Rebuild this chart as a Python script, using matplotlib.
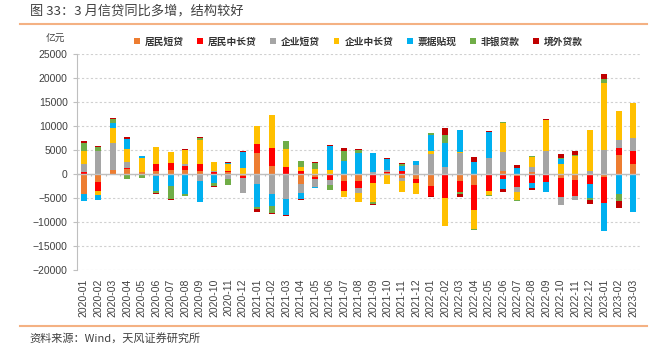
import numpy as np
import matplotlib
matplotlib.use("Agg")
import matplotlib.pyplot as plt
from matplotlib.patches import Patch

plt.rcParams['font.family'] = ['Noto Sans CJK SC', 'DejaVu Sans']

# 月份
months = ['%d-%02d' % (y, m) for y in (2020, 2021, 2022, 2023) for m in range(1, 13)][:39]

# 各分项同比多增（亿元）
jm_short = [-4000, -1500, 800, 1050, 400, 750, 800, 800, 600, 100, 400, -250,
            4400, 1750, 0, -2000, -500, 0, -1450, -1300, 0, 200, -800, -950,
            -2350, 0, -1400, -2150, 0, 750, -300, 400, 0, -850, -1100, 0,
            -600, 4100, 2150]
jm_long = [550, -1900, 200, 300, 100, 1400, 1600, 1000, 1450, 350, 350, -450,
           2000, 3800, 1600, 600, -400, -1250, -2100, -1450, -1800, 200, 750, -950,
           -2200, -4850, -2350, -5300, -3450, -1050, -2400, -1800, -1650, -3950, -3450, -1950,
           -5300, 1300, 2650]
qy_short = [1700, 4900, 5550, 1250, 0, -400, 0, 350, -1300, 200, -1000, -3100,
            -1950, -4000, -5050, -1950, -1750, -900, 0, -1100, 500, 500, -500, 1950,
            4300, 1500, 4450, 0, 3350, 3800, -1050, 1100, 4800, -1500, -700, 600,
            5000, 1650, 2700]
qy_long = [2700, -950, 3200, 2700, 2900, 3600, 2300, 3000, 5000, 2000, 1450, 1400,
           3750, 6750, 3600, 1000, 1200, 1000, -1100, -2000, -3900, -1950, -2400, -2100,
           600, -5850, 200, -3950, -900, 6050, -1500, 2100, 6550, 2200, 3900, 8700,
           13950, 6050, 7450]
piaoju = [-1600, -1050, 1000, 2000, 350, -3100, -2500, -4000, -4400, -1800, 200, 3200,
          -4900, -2500, -3400, -1250, -200, 5000, 2700, 4500, 4000, 2200, 900, 750,
          3200, 4950, 4500, 2550, 5550, -1950, 1400, -1050, -1950, 900, -150, -2900,
          -5850, -4000, -7900]
feiyin = [1650, 750, 700, -1000, -700, -400, -2550, -600, 500, -550, -1200, 0,
          -350, -1600, 1650, 1200, 1250, -1050, 2100, 650, -550, 0, 500, 0,
          500, 1650, -300, -300, -200, 300, -350, 300, -150, 300, 200, -550,
          850, -1600, 0]
jingwai = [300, 150, 200, 400, 150, -300, -200, 150, 200, -250, 150, 200,
           -550, -200, -200, -200, 200, 150, 750, 200, -200, 350, 150, -150,
           -100, 1450, -750, 1100, 200, -600, 500, -500, 200, 750, 850, -750,
           1050, -1400, 0]

names = ['居民短贷', '居民中长贷', '企业短贷', '企业中长贷', '票据贴现', '非银贷款', '境外贷款']
series = [jm_short, jm_long, qy_short, qy_long, piaoju, feiyin, jingwai]
colors = ['#ED7D31', '#FF0000', '#A5A5A5', '#FFC000', '#00B0F0', '#70AD47', '#C00000']

fig = plt.figure(figsize=(6.7, 3.46), dpi=100)
ax = fig.add_axes([76.7 / 670, 1 - 270.3 / 346, (640.3 - 76.7) / 670, (270.3 - 54.3) / 346])

x = np.arange(len(months))
pos = np.zeros(len(months))
neg = np.zeros(len(months))
for vals, c in zip(series, colors):
    v = np.array(vals, dtype=float)
    bottom = np.where(v >= 0, pos, neg)
    ax.bar(x, v, width=0.42, bottom=bottom, color=c, linewidth=0)
    pos += np.where(v >= 0, v, 0)
    neg += np.where(v < 0, v, 0)

ax.set_xlim(-0.5, len(months) - 0.5)
ax.set_ylim(-20000, 25000)
ax.set_yticks(np.arange(-20000, 25001, 5000))
ax.yaxis.grid(True, linestyle=(0, (2, 2)), color='#D0D0D0', linewidth=0.8)
ax.set_axisbelow(True)

# 零轴及分隔刻度
ax.axhline(0, color='#BFBFBF', linewidth=1, zorder=1)
ax.vlines(np.arange(len(months) + 1) - 0.5, -350, 0, color='#BFBFBF', linewidth=0.8, zorder=1)

for s in ['top', 'right', 'bottom']:
    ax.spines[s].set_visible(False)
ax.spines['left'].set_color('#BFBFBF')

ax.set_xticks(x)
ax.set_xticklabels(months, rotation=90, fontsize=7.5, family='Liberation Sans', color='#404040')
ax.tick_params(axis='x', length=0, pad=6)
ax.tick_params(axis='y', length=3, color='#BFBFBF', labelsize=7.5, labelcolor='#404040')
for t in ax.get_yticklabels():
    t.set_family('Liberation Sans')

fig.text(55.5 / 670, 1 - 39 / 346, '亿元', fontsize=7, color='#404040', ha='center', va='center')

handles = [Patch(facecolor=c, edgecolor='none') for c in colors]
fig.legend(handles, names, loc='center', bbox_to_anchor=(358.5 / 670, 1 - 41.7 / 346), ncol=7,
           frameon=False, handlelength=0.6, handleheight=0.6,
           handletextpad=0.5, columnspacing=1.4, labelcolor='#333333',
           prop={'size': 7, 'weight': 'bold'})

# 标题与来源
fig.text(30 / 670, 1 - 10.5 / 346, '图 33：3 月信贷同比多增，结构较好', fontsize=9.5,
         color='#404040', ha='left', va='center')
fig.add_artist(plt.Line2D([20 / 670, 647 / 670], [1 - 23.5 / 346] * 2, color='#F4B183', linewidth=1.5))
fig.add_artist(plt.Line2D([20 / 670, 647 / 670], [1 - 326 / 346] * 2, color='#F4B183', linewidth=1.5))
fig.text(29 / 670, 1 - 338 / 346, '资料来源：Wind，天风证券研究所', fontsize=8,
         color='#404040', ha='left', va='center')

fig.savefig('out.png', dpi=100)
